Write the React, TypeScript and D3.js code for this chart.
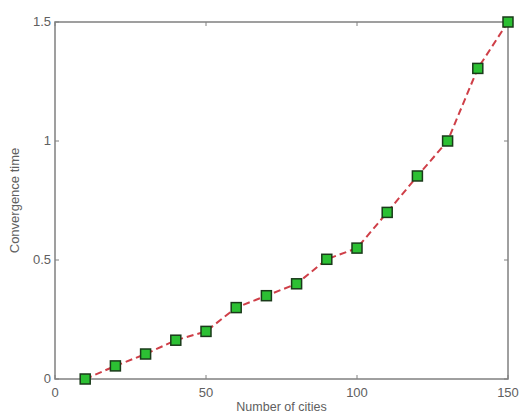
import React, { useRef, useEffect } from "react";
import * as d3 from "d3";

const cities = [10, 20, 30, 40, 50, 60, 70, 80, 90, 100, 110, 120, 130, 140, 150];
const convergence = [0, 0.055, 0.105, 0.163, 0.2, 0.3, 0.35, 0.4, 0.503, 0.55, 0.7, 0.853, 1.0, 1.305, 1.5];
const xTicks = [0, 50, 100, 150];
const yTicks = [0, 0.5, 1, 1.5];

const W = 521;
const H = 414;
const margin = { top: 22, right: 13, bottom: 35, left: 55 };

function App() {
  const svgRef = useRef<SVGSVGElement>(null);

  useEffect(() => {
    const svg = d3.select(svgRef.current);
    svg.selectAll("*").remove();

    const x = d3.scaleLinear().domain([0, 150]).range([margin.left, W - margin.right]);
    const y = d3.scaleLinear().domain([0, 1.5]).range([H - margin.bottom, margin.top]);

    const axisColor = "#808080";
    const textColor = "#606060";
    const font = "Arial, 'Liberation Sans', sans-serif";

    // frame
    svg.append("rect")
      .attr("x", x(0)).attr("y", y(1.5))
      .attr("width", x(150) - x(0)).attr("height", y(0) - y(1.5))
      .attr("fill", "white").attr("stroke", axisColor).attr("stroke-width", 1.5);

    // ticks point inward, on both sides
    const xg = svg.append("g");
    xTicks.forEach((t) => {
      xg.append("line").attr("x1", x(t)).attr("x2", x(t)).attr("y1", y(0)).attr("y2", y(0) - 4)
        .attr("stroke", axisColor);
      xg.append("line").attr("x1", x(t)).attr("x2", x(t)).attr("y1", y(1.5)).attr("y2", y(1.5) + 4)
        .attr("stroke", axisColor);
      xg.append("text").attr("x", x(t)).attr("y", y(0) + 18)
        .attr("text-anchor", "middle").attr("font-size", 13).attr("font-family", font)
        .attr("fill", textColor).text(String(t));
    });

    const yg = svg.append("g");
    yTicks.forEach((t) => {
      yg.append("line").attr("x1", x(0)).attr("x2", x(0) + 4).attr("y1", y(t)).attr("y2", y(t))
        .attr("stroke", axisColor);
      yg.append("line").attr("x1", x(150)).attr("x2", x(150) - 4).attr("y1", y(t)).attr("y2", y(t))
        .attr("stroke", axisColor);
      yg.append("text").attr("x", x(0) - 4).attr("y", y(t) + 4)
        .attr("text-anchor", "end").attr("font-size", 13).attr("font-family", font)
        .attr("fill", textColor).text(String(t));
    });

    // axis labels
    svg.append("text")
      .attr("x", (x(0) + x(150)) / 2).attr("y", H - 3)
      .attr("text-anchor", "middle").attr("font-size", 12.5).attr("font-family", font)
      .attr("fill", textColor).text("Number of cities");

    svg.append("text")
      .attr("transform", `translate(19, ${(y(0) + y(1.5)) / 2}) rotate(-90)`)
      .attr("text-anchor", "middle").attr("font-size", 13).attr("font-family", font)
      .attr("fill", textColor).text("Convergence time");

    const data = cities.map((c, i) => [c, convergence[i]] as [number, number]);

    const line = d3.line<[number, number]>().x((d) => x(d[0])).y((d) => y(d[1]));
    svg.append("path").datum(data)
      .attr("d", line).attr("fill", "none")
      .attr("stroke", "#cf3f48").attr("stroke-width", 2).attr("stroke-dasharray", "7,4");

    const s = 10;
    svg.selectAll(".pt").data(data).join("rect")
      .attr("class", "pt")
      .attr("x", (d) => x(d[0]) - s / 2).attr("y", (d) => y(d[1]) - s / 2)
      .attr("width", s).attr("height", s)
      .attr("fill", "#2cc033").attr("stroke", "#1a3a1a").attr("stroke-width", 1.5);
  }, []);

  return (
    <svg ref={svgRef} width={W} height={H} style={{ position: "absolute", left: 0, top: 0, background: "white" }} />
  );
}

export default App;
